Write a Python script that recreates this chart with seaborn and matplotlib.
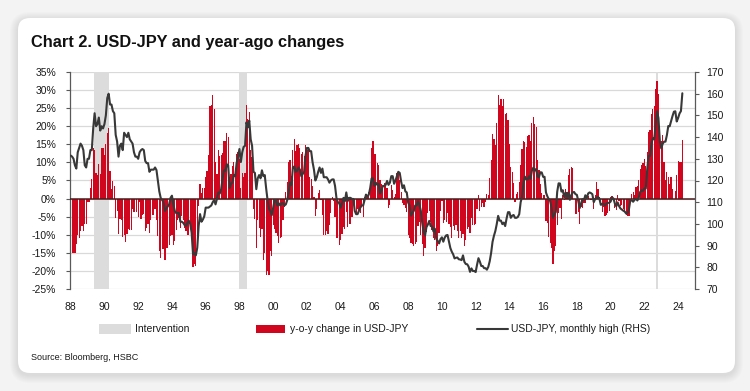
import numpy as np
import pandas as pd
import matplotlib
matplotlib.use("Agg")
import matplotlib.pyplot as plt
import seaborn as sns
from matplotlib.patches import FancyBboxPatch, Rectangle
from matplotlib.ticker import FixedLocator, FuncFormatter

# ---------------- data (monthly, Jan 1988 - Apr 2024) ----------------
start_month = "1988-01"

usdjpy_high = [
    131.5, 131, 130, 127, 125.5, 133, 135, 137, 136, 134, 127, 126,          # 1988
    130, 130, 134, 134, 144, 151, 145, 146, 149, 143, 145, 144,              # 1989
    146, 150, 158, 160, 155, 155, 152, 151, 141, 138, 131, 136,              # 1990
    137, 134, 142, 141, 140, 142, 139, 138, 137, 133, 131, 131,              # 1991
    130, 133, 134, 134.5, 134, 129, 128, 128, 124, 125, 125, 125,            # 1992
    126, 124.8, 120, 115, 112, 111, 110, 106, 107, 108, 109, 112,            # 1993
    113, 109, 106, 105, 105, 105, 101, 101, 100.5, 99.5, 99, 100.5,          # 1994
    101.5, 100, 96, 86, 86.5, 85.5, 89, 99, 104.5, 101, 102, 103.5,          # 1995
    107.5, 107.5, 107.5, 108, 108.5, 110, 111, 109, 111.5, 114.5, 114, 116,  # 1996
    121, 124.6, 124.5, 127.5, 127, 116.5, 118.5, 119, 122.5, 122, 128, 131,  # 1997
    134.5, 128.5, 133, 135.5, 136, 146.8, 144.5, 147.6, 139, 136, 124, 123.5,  # 1998
    116, 121, 122.5, 121, 124.7, 122, 122.5, 116.4, 111, 107, 106, 104,      # 1999
    107.5, 111, 111, 108.5, 109.5, 108.5, 109.5, 109.5, 108.5, 109, 111, 114.5,  # 2000
    119, 118, 126, 126.5, 124, 124.5, 126, 125, 122, 123, 124, 131.5,        # 2001
    135, 135, 133.5, 133.5, 128.5, 125, 120, 121.5, 124, 126, 123.5, 125.5,  # 2002
    121.5, 121.5, 121.5, 120.5, 119, 120, 120.5, 120.5, 117.5, 112, 110, 109.5,  # 2003
    107.5, 109.5, 112, 110.5, 114.5, 110.5, 112, 112, 111.5, 111.5, 106, 104.5,  # 2004
    104.5, 106, 107.5, 108.5, 108.5, 111, 113.5, 112.5, 113.5, 116.5, 121, 121,  # 2005
    117.5, 119, 118, 118.5, 114, 115.5, 117.5, 117.5, 118, 119.8, 118, 119,  # 2006
    122, 122, 118.5, 120, 122, 124, 123.5, 119.5, 116.5, 117.8, 115, 114.5,  # 2007
    109.8, 108.5, 103.8, 105, 106, 108.5, 108.5, 110.5, 108.9, 106.1, 100.5, 96.3,  # 2008
    94.6, 98.5, 99.7, 101.4, 99, 98.9, 96.5, 97.8, 93.1, 92.2, 91, 93,       # 2009
    93.8, 91.8, 93.7, 94.7, 94.9, 92, 88.9, 87.2, 86, 84.1, 84.4, 84.5,      # 2010
    83.7, 83.6, 83.3, 85.5, 82.5, 81.5, 81.4, 80.3, 77.9, 79.5, 78.3, 78.3,  # 2011
    77.8, 81.2, 84.2, 82.6, 80.6, 80.6, 79.6, 79.6, 78.9, 80.2, 82.8, 86.6,  # 2012
    91.7, 94.5, 96.7, 99.9, 103.7, 101.5, 101.5, 99.9, 100.6, 99, 102.5, 105.4,  # 2013
    105.4, 102.8, 103.8, 104.1, 102.8, 102.8, 103.2, 104.5, 110, 112.5, 118.9, 121.8,  # 2014
    120.5, 120.5, 122, 120.8, 124.5, 125.9, 124.6, 125.3, 121.8, 121.5, 123.8, 123.7,  # 2015
    121.7, 121.7, 114.5, 112.7, 111.4, 110.5, 107.5, 102.8, 104.3, 105.5, 114.8, 118.7,  # 2016
    118.6, 114.9, 115.5, 112.2, 114.4, 112.4, 114.5, 111.1, 113.3, 114.5, 114.7, 113.7,  # 2017
    113.4, 110.5, 107.3, 109.5, 111.4, 110.9, 113.2, 111.8, 114, 114.5, 114.2, 113.7,  # 2018
    110, 111.5, 112.1, 112.4, 111.7, 108.8, 109, 109.3, 108.5, 109.3, 109.7, 109.7,  # 2019
    110.3, 112.2, 111.7, 109.4, 108.1, 109.9, 108.2, 107.1, 106.6, 106.1, 105.7, 104.8,  # 2020
    104.9, 106.7, 110.9, 110.9, 110.2, 111.1, 111.6, 110.8, 112, 114.7, 115.5, 115.2,  # 2021
    116.3, 116.3, 125.1, 131.3, 131.3, 137, 139.4, 139, 145.9, 151.9, 148.8, 138.2,  # 2022
    134.8, 136.9, 137.9, 137.9, 140.9, 145.1, 145, 147.4, 149.7, 151.7, 151.9, 147.2,  # 2023
    148.8, 150.9, 152, 160.2,                                                # 2024
]

yoy_change = [
    -18, -15, -15, -15, -12.5, -10, -11, -9, -7.5, -9, -7, -7,               # 1988
    -1, -1, 3, 5.5, 14, 13.5, 7, 6.5, 9.5, 6.7, 14, 14,                      # 1989
    12, 15, 18, 19.4, 7.6, 2.6, 4.8, 3.4, -5.4, -3.5, -9.7, -5.6,            # 1990
    -6, -10.7, -10, -12, -9.7, -8.4, -8.6, -8.6, -2.8, -3.6, 0, -3.7,        # 1991
    -5, -1, -5.6, -4.6, -4.3, -9, -8, -7, -9.5, -6, -4.6, -4.6,              # 1992
    -3, -6, -10.4, -14.5, -16.4, -14, -14, -17, -13.7, -13.6, -12.8, -10.4,  # 1993
    -10, -12.7, -11.7, -8.7, -6, -5.4, -8, -4.7, -6, -8, -9, -10,            # 1994
    -10, -8, -9.4, -19, -18, -18.6, -12, -2, 4, 1.5, 3, 3,                   # 1995
    6, 7.5, 12, 25.6, 26, 28.7, 24.7, 10, 6.7, 13.4, 11.8, 12,               # 1996
    12.5, 16, 15.8, 18, 17, 6, 6.8, 9, 10, 6.5, 12.3, 13,                    # 1997
    11, 3, 7, 6, 7, 26, 22, 24, 13.5, 11.5, -3, -5.7,                        # 1998
    -13.8, -5.8, -8, -10.7, -8.3, -17, -15, -21, -20, -21, -14.5, -15.8,     # 1999
    -7.3, -8.3, -9.4, -10.3, -12.2, -11, -10.6, -6, -2.3, 1.9, 4.7, 10,      # 2000
    10.7, 6.3, 13.5, 16.6, 13.2, 14.7, 15, 14, 12.4, 12.8, 11.7, 14.8,       # 2001
    13.4, 14.4, 6, 5.5, 3.6, 0.4, -4.8, -2.8, 1.6, 2.4, -0.4, -4.6,          # 2002
    -10, -10, -9, -9.7, -7.4, -4, 0.4, -0.8, -5.2, -11, -11, -12.7,          # 2003
    -11.5, -9.9, -7.8, -8.3, -3.8, -7.9, -7, -7, -5, -0.4, -3.6, -4.6,       # 2004
    -2.8, -3.2, -4, -1.8, -5.2, 0.5, 1.3, 0.4, 1.8, 4.5, 14, 15.8,           # 2005
    12.4, 12.3, 9.8, 9.2, 5, 4, 3.5, 4.4, 4, 2.8, -2.5, -1.7,                # 2006
    3.8, 2.5, 0.4, 1.3, 7, 7.4, 5.1, 1.7, -1.3, -1.7, -2.5, -3.8,            # 2007
    -10, -11, -12.4, -12.5, -13, -12.5, -12, -7.5, -6.5, -10, -12.6, -15.9,  # 2008
    -13.8, -9.2, -4, -3.4, -6.6, -8.8, -11, -11.5, -14.5, -13, -9.5, -3.4,   # 2009
    -0.8, -6.8, -6, -6.6, -4.1, -7, -7.9, -10.8, -7.6, -8.8, -7.3, -9.1,     # 2010
    -10.8, -8.9, -11, -9.7, -13, -11.4, -8.4, -7.9, -9.4, -5.5, -7.2, -7.3,  # 2011
    -7, -2.9, 1.1, -3.4, -2.3, -1.1, -2.2, -0.9, 1.3, 0.9, 5.7, 10.6,        # 2012
    17.9, 16.4, 14.8, 21, 28.7, 26, 27.5, 25.5, 27.5, 23.4, 23.8, 21.7,      # 2013
    15, 8.8, 7.3, 4.2, -0.9, 1.3, 1.7, 4.6, 9.3, 13.6, 16, 15.6,             # 2014
    14.3, 17.2, 17.5, 16, 21, 22.5, 20.7, 19.9, 10.7, 8, 4.1, 1.6,           # 2015
    1, 1, -6.1, -6.7, -10.5, -12.2, -13.7, -18, -14.4, -13.2, -7.3, -4,      # 2016
    -2.5, -5.6, 0.9, -0.4, 2.7, 1.7, 6.5, 8.1, 8.6, 8.5, -0.1, -4.2,         # 2017
    -4.4, -3.8, -7.1, -2.4, -2.6, -1.3, -1.1, 0.6, 0.6, 0, -0.4, 0,          # 2018
    -3, 0.9, 4.5, 2.6, 0.3, -1.9, -3.7, -2.2, -4.8, -4.5, -3.9, -3.5,        # 2019
    0.3, 0.6, -0.4, -2.7, -3.2, 1, -0.7, -2, -1.8, -2.9, -3.6, -4.5,         # 2020
    -4.9, -4.9, -0.7, 1.4, 1.9, 1.1, 3.1, 3.5, 5, 8.1, 9.3, 9.9,             # 2021
    10.9, 9, 12.8, 18.4, 19.1, 23.3, 24.9, 25.5, 30.3, 32.4, 28.8, 20,       # 2022
    15.9, 17.7, 10.2, 5, 7.3, 5.9, 4, 6, 2.6, -0.1, 2.1, 6.5,                # 2023
    10.4, 10.2, 10.2, 16.2,                                                  # 2024
]

intervention_periods = [("1989-06", "1990-04"), ("1998-01", "1998-06"), ("2022-10", "2022-10")]
x_tick_labels = ["88", "90", "92", "94", "96", "98", "00", "02", "04", "06",
                 "08", "10", "12", "14", "16", "18", "20", "22", "24"]
left_ticks = [-25, -20, -15, -10, -5, 0, 5, 10, 15, 20, 25, 30, 35]
right_ticks = [70, 80, 90, 100, 110, 120, 130, 140, 150, 160, 170]

title = "Chart 2. USD-JPY and year-ago changes"
legend_labels = ["Intervention", "y-o-y change in USD-JPY", "USD-JPY, monthly high (RHS)"]
source = "Source: Bloomberg, HSBC"

# ---------------- style ----------------
sns.set_style("white")
plt.rcParams["font.family"] = ["Liberation Sans", "DejaVu Sans"]

RED = "#d0061f"
LINE = "#383838"
SHADE = "#dcdcdc"
GRID = "#d9d9d9"
AXC = "#595959"
TXT = "#1a1a1a"

months = pd.period_range(start_month, periods=len(usdjpy_high), freq="M")
df = pd.DataFrame({"idx": np.arange(len(months)), "month": months.astype(str),
                   "high": usdjpy_high, "yoy": yoy_change})
pos = {m: i for i, m in enumerate(df["month"])}

W, H = 750, 391
fig = plt.figure(figsize=(W / 100, H / 100), dpi=100)
fig.patch.set_facecolor("#f3f3f3")

# background card with soft shadow (pixel coordinates)
bg = fig.add_axes([0, 0, 1, 1], zorder=-10)
bg.set_xlim(0, W)
bg.set_ylim(H, 0)
bg.axis("off")
for k in range(8, 0, -1):
    bg.add_patch(FancyBboxPatch((18 - k, 18 - k + 2), 717 + 2 * k, 355 + 2 * k,
                                boxstyle=f"round,pad=0,rounding_size={12 + k}",
                                facecolor="#000000", edgecolor="none", alpha=0.012))
bg.add_patch(FancyBboxPatch((18, 18), 717, 355, boxstyle="round,pad=0,rounding_size=12",
                            facecolor="white", edgecolor="none"))

# title & source
fig.text(31 / W, 1 - 43 / H, title, fontsize=11.8, fontweight="bold", color="#111111",
         va="center", ha="left")
fig.text(31 / W, 1 - 357 / H, source, fontsize=6.5, color=TXT, va="center", ha="left")

# ---------------- main chart ----------------
L, R, T, B = 70, 695, 72, 289
ax = fig.add_axes([L / W, 1 - B / H, (R - L) / W, (B - T) / H])
ax.set_facecolor("none")

ax.yaxis.grid(True, color=GRID, linewidth=0.9)
ax.set_axisbelow(True)

for a, b in intervention_periods:
    ax.axvspan(pos[a] - 0.5, pos[b] + 0.5, color=SHADE, linewidth=0, zorder=1)

sns.barplot(data=df, x="idx", y="yoy", native_scale=True, color=RED, saturation=1,
            width=0.85, errorbar=None, linewidth=0, ax=ax, zorder=2)
ax.axhline(0, color="#4a1c1c", linewidth=1.1, zorder=3)

ax.set_xlim(-0.5, 444)
ax.set_ylim(-25, 35)
ax.yaxis.set_major_locator(FixedLocator(left_ticks))
ax.yaxis.set_major_formatter(FuncFormatter(lambda v, p: f"{int(v)}%"))
ax.xaxis.set_major_locator(FixedLocator(list(range(0, 24 * len(x_tick_labels), 24))))
ax.set_xticklabels(x_tick_labels)
ax.set_xlabel("")
ax.set_ylabel("")
ax.tick_params(axis="y", direction="out", length=3, width=0.8, color=AXC, pad=7,
               labelsize=7.5, labelcolor=TXT)
ax.tick_params(axis="x", length=0, pad=9.5, labelsize=7.5, labelcolor=TXT)
for s in ["top", "bottom", "right"]:
    ax.spines[s].set_visible(False)
ax.spines["left"].set_color(AXC)
ax.spines["left"].set_linewidth(0.9)

ax2 = ax.twinx()
sns.lineplot(data=df, x="idx", y="high", ax=ax2, color=LINE, linewidth=1.5, errorbar=None)
ax2.set_xlim(-0.5, 444)
ax2.set_ylim(70, 170)
ax2.yaxis.set_major_locator(FixedLocator(right_ticks))
ax2.yaxis.set_major_formatter(FuncFormatter(lambda v, p: f"{int(v)}"))
ax2.set_xlabel("")
ax2.set_ylabel("")
ax2.tick_params(axis="y", direction="out", length=3, width=0.8, color=AXC, pad=5,
                labelsize=7.5, labelcolor=TXT)
for s in ["top", "bottom", "left"]:
    ax2.spines[s].set_visible(False)
ax2.spines["right"].set_color(AXC)
ax2.spines["right"].set_linewidth(0.9)

# ---------------- legend (pixel coordinates on the card) ----------------
ly = 329
bg.add_patch(Rectangle((99, ly - 5), 32, 10, facecolor=SHADE, edgecolor="none"))
bg.text(135, ly, legend_labels[0], fontsize=7.5, color=TXT, va="center", ha="left")
bg.add_patch(Rectangle((256, ly - 4), 29, 8, facecolor=RED, edgecolor="none"))
bg.text(290, ly, legend_labels[1], fontsize=7.5, color=TXT, va="center", ha="left")
bg.plot([477, 508], [ly, ly], color=LINE, linewidth=1.5)
bg.text(511, ly, legend_labels[2], fontsize=7.5, color=TXT, va="center", ha="left")

fig.savefig("out.png", dpi=100, facecolor=fig.get_facecolor())
